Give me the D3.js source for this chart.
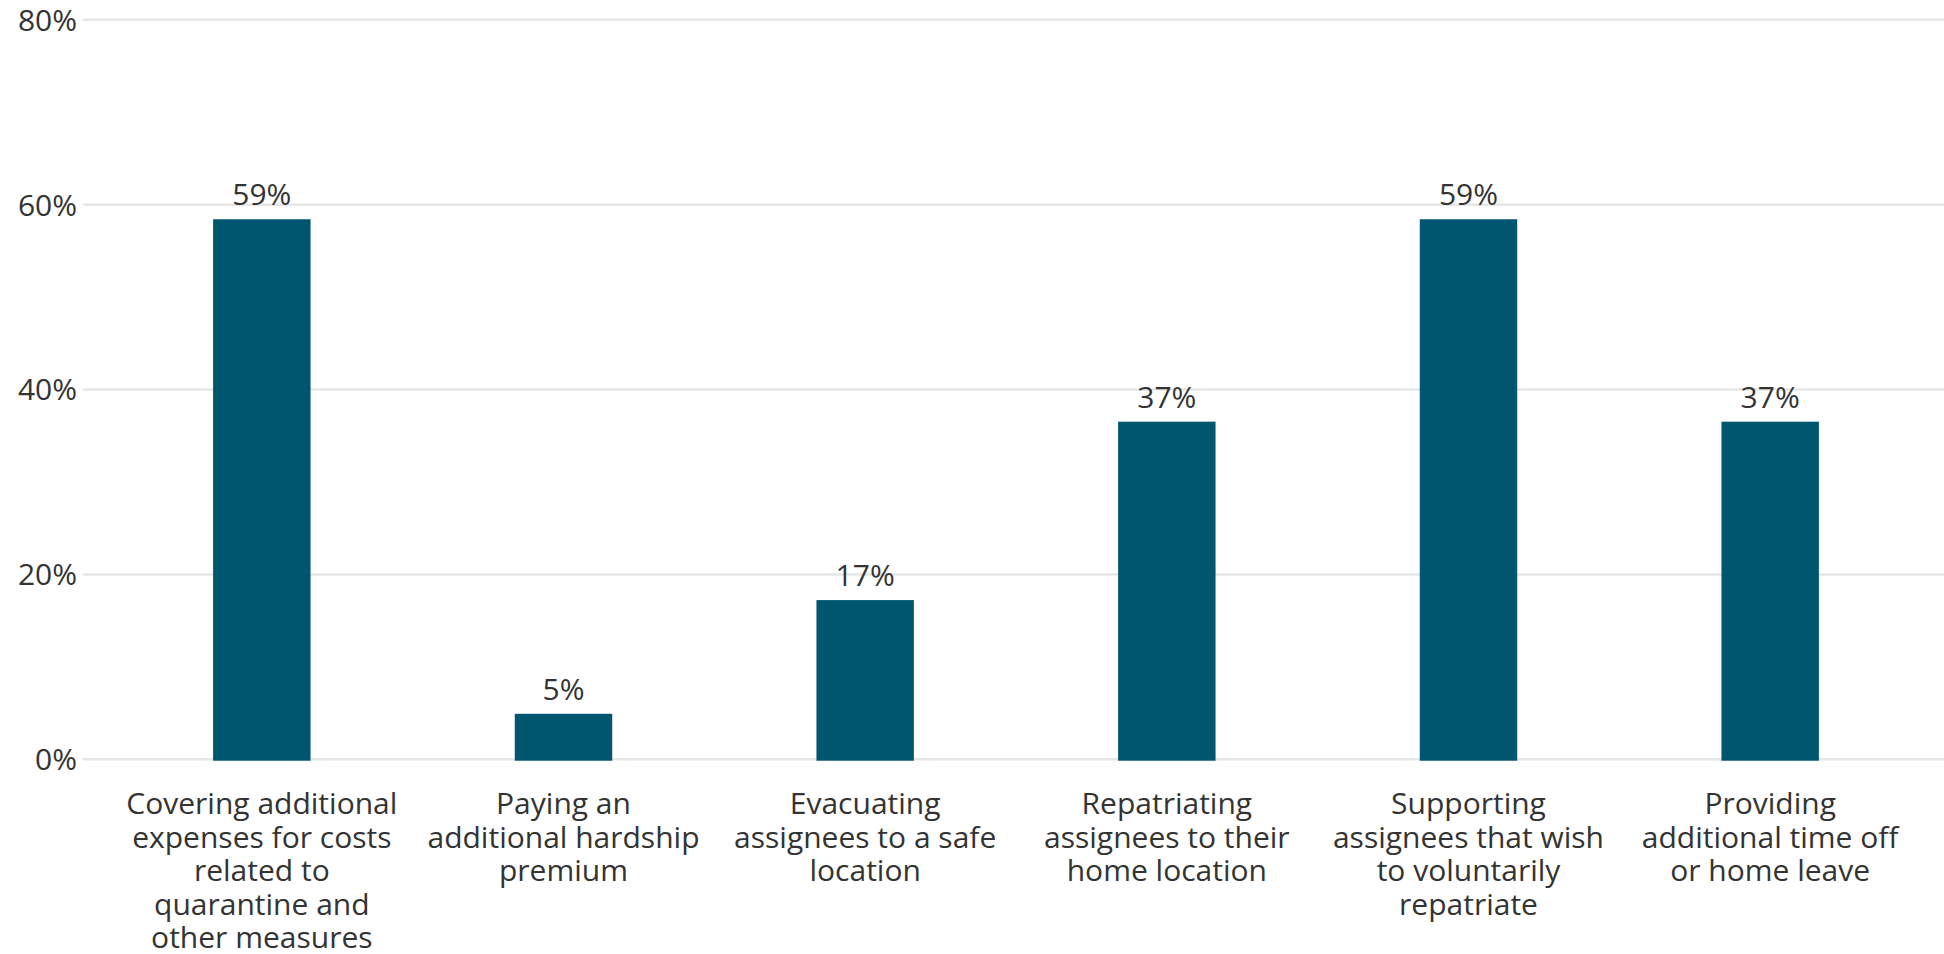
<!DOCTYPE html>
<html>
<head>
<meta charset="utf-8">
<script src="https://cdn.jsdelivr.net/npm/d3@7"></script>
<style>
  body { margin: 0; background: #fff; }
  svg { display: block; font-family: "Open Sans", sans-serif; }
</style>
</head>
<body>
<svg id="chart"></svg>
<script>
// categories, one entry per bar, already split into the lines shown under the axis
var categories = [
  ["Covering additional", "expenses for costs", "related to", "quarantine and", "other measures"],
  ["Paying an", "additional hardship", "premium"],
  ["Evacuating", "assignees to a safe", "location"],
  ["Repatriating", "assignees to their", "home location"],
  ["Supporting", "assignees that wish", "to voluntarily", "repatriate"],
  ["Providing", "additional time off", "or home leave"]
];
var values = [58.5, 5, 17.3, 36.6, 58.5, 36.6];
var yTicks = [0, 20, 40, 60, 80];

var width = 1944, height = 954;
var svg = d3.select("#chart")
  .attr("width", width)
  .attr("height", height);

var x = d3.scaleBand()
  .domain(d3.range(values.length))
  .range([111, 1921])
  .paddingInner(0.677)
  .paddingOuter(0.3385);

var y = d3.scaleLinear()
  .domain([0, 80])
  .range([760, 20.5]);

// gridlines + tick labels
var grid = svg.append("g");
grid.selectAll("line")
  .data(yTicks)
  .enter().append("line")
  .attr("x1", 83)
  .attr("x2", width)
  .attr("y1", function(d) { return y(d) - 0.7; })
  .attr("y2", function(d) { return y(d) - 0.7; })
  .style("stroke", "#e6e6e6")
  .style("stroke-width", 2.6);

grid.selectAll("text")
  .data(yTicks)
  .enter().append("text")
  .attr("x", 77)
  .attr("y", function(d) { return y(d); })
  .attr("dy", "0.34em")
  .attr("text-anchor", "end")
  .style("font-size", "30px")
  .style("fill", "#333")
  .text(function(d) { return d + "%"; });

// bars
svg.append("g").selectAll("rect")
  .data(values)
  .enter().append("rect")
  .attr("x", function(d, i) { return x(i); })
  .attr("y", function(d) { return y(d); })
  .attr("width", x.bandwidth())
  .attr("height", function(d) { return y(0) - y(d) + 0.7; })
  .style("fill", "#00566f");

// value labels
svg.append("g").selectAll("text")
  .data(values)
  .enter().append("text")
  .attr("x", function(d, i) { return x(i) + x.bandwidth() / 2; })
  .attr("y", function(d) { return y(d) - 14; })
  .attr("text-anchor", "middle")
  .style("font-size", "30px")
  .style("fill", "#333")
  .text(function(d) { return Math.round(d) + "%"; });

// category labels
var cat = svg.append("g").selectAll("text")
  .data(categories)
  .enter().append("text")
  .attr("x", function(d, i) { return x(i) + x.bandwidth() / 2; })
  .attr("y", y(0) + 54)
  .attr("text-anchor", "middle")
  .style("font-size", "30px")
  .style("fill", "#333");

cat.selectAll("tspan")
  .data(function(d) { return d; })
  .enter().append("tspan")
  .attr("x", function() { return d3.select(this.parentNode).attr("x"); })
  .attr("dy", function(d, i) { return i == 0 ? 0 : 33.5; })
  .text(function(d) { return d; });
</script>
</body>
</html>
